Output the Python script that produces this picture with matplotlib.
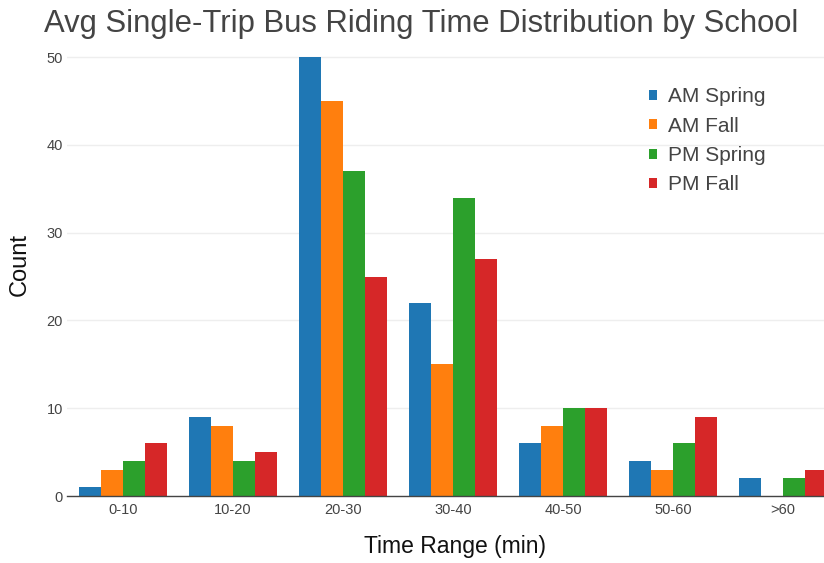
import matplotlib
matplotlib.use("Agg")
import matplotlib.pyplot as plt
import numpy as np

plt.rcParams['font.family'] = ['Liberation Sans', 'DejaVu Sans']

categories = ["0-10", "10-20", "20-30", "30-40", "40-50", "50-60", ">60"]
series_names = ["AM Spring", "AM Fall", "PM Spring", "PM Fall"]
am_spring = [1, 9, 50, 22, 6, 4, 2]
am_fall = [3, 8, 45, 15, 8, 3, 0]
pm_spring = [4, 4, 37, 34, 10, 6, 2]
pm_fall = [6, 5, 25, 27, 10, 9, 3]
colors = ["#1f77b4", "#ff7f0e", "#2ca02c", "#d62728"]

W, H = 824, 563
fig = plt.figure(figsize=(W / 100, H / 100), dpi=100)
ax = fig.add_axes([67 / W, (H - 496) / H, (W - 67) / W, (496 - 34) / H])

x = np.arange(len(categories))
n = len(series_names)
group_w = 0.8
bw = group_w / n
for i, (name, vals, c) in enumerate(zip(series_names, [am_spring, am_fall, pm_spring, pm_fall], colors)):
    off = -group_w / 2 + bw * (i + 0.5)
    ax.bar(x + off, vals, width=bw, color=c, label=name, zorder=3, linewidth=0)

ax.set_xlim(-0.509, 6.373)
ax.set_ylim(0, 52.63)
ax.set_xticks(x)
ax.set_xticklabels(categories)
ax.set_yticks([0, 10, 20, 30, 40, 50])
ax.tick_params(axis='both', length=0, labelsize=10.5, labelcolor="#444444")
ax.tick_params(axis='x', pad=5)
ax.tick_params(axis='y', pad=3)
ax.grid(axis='y', color="#eeeeee", linewidth=1, zorder=0)
for s in ["top", "right", "left"]:
    ax.spines[s].set_visible(False)
ax.spines["bottom"].set_color("#444444")
ax.spines["bottom"].set_linewidth(1)
ax.spines["bottom"].set_zorder(4)

ax.set_xlabel("Time Range (min)", fontsize=16.5, color="#111111")
ax.xaxis.label.set_va("center")
ax.xaxis.set_label_coords((455.5 - 67) / (W - 67), (496 - 547) / 462)
ax.set_ylabel("Count", fontsize=17, color="#111111")
ax.yaxis.label.set_va("center")
ax.yaxis.set_label_coords((20 - 67) / (W - 67), (496 - 265) / 462)

fig.text(421 / W, 1 - 32 / H, "Avg Single-Trip Bus Riding Time Distribution by School",
         ha="center", va="baseline", fontsize=22.3, color="#444444")

leg = ax.legend(loc="upper left", bbox_to_anchor=(630 / W, 1 - 68.5 / H),
                bbox_transform=fig.transFigure, frameon=False,
                fontsize=15, handlelength=0.38, handleheight=0.38, handletextpad=0.53,
                labelspacing=0.5, labelcolor="#444444")

fig.savefig("out.png", dpi=100, facecolor="white")
